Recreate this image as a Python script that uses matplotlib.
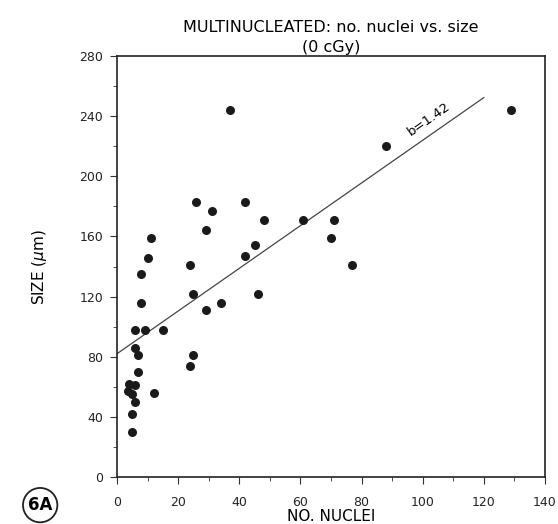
import matplotlib
matplotlib.use("Agg")
import matplotlib.pyplot as plt
from matplotlib.ticker import MultipleLocator

# values
no_nuclei = [37, 129, 88, 26, 42, 31, 48, 61, 71, 29, 11, 70, 45, 42, 10, 24, 77,
             8, 25, 46, 8, 34, 29, 6, 9, 15, 6, 7, 25, 24, 7, 4, 6, 3.6, 4.8, 12,
             6, 5, 5]
size_um = [244, 244, 220, 183, 183, 177, 171, 171, 171, 164, 159, 159, 154, 147,
           146, 141, 141, 135, 122, 122, 116, 116, 111, 98, 98, 98, 86, 81, 81, 74,
           70, 62, 61, 57, 55, 56, 50, 42, 30]

# regression line
intercept = 82
slope = 1.42
line_x = [0, 120]
line_y = [intercept + slope * v for v in line_x]

plt.rcParams["font.family"] = ["DejaVu Sans"]

fig = plt.figure(figsize=(5.58, 5.24), dpi=100)
ax = fig.add_axes([0.2097, 0.0897, 0.7670, 0.8033])

ax.scatter(no_nuclei, size_um, s=30, color="#1a1a1a", zorder=3)
ax.plot(line_x, line_y, color="#444444", lw=0.9)

ax.text(102, 238, "b=1.42", rotation=35, ha="center", va="center",
        rotation_mode="anchor", fontsize=9.5)

ax.set_xlim(0, 140)
ax.set_ylim(0, 280)
ax.xaxis.set_major_locator(MultipleLocator(20))
ax.xaxis.set_minor_locator(MultipleLocator(10))
ax.yaxis.set_major_locator(MultipleLocator(40))
ax.yaxis.set_minor_locator(MultipleLocator(20))
ax.tick_params(which="both", direction="out", top=False, right=False,
               labelsize=9, color="#333333", labelcolor="#222222")
ax.tick_params(which="major", length=5)
ax.tick_params(which="minor", length=3)
ax.tick_params(axis="x", which="major", pad=9)
ax.tick_params(axis="y", which="major", pad=5)
for sp in ax.spines.values():
    sp.set_linewidth(1.2)
    sp.set_color("#222222")

ax.set_xlabel("NO. NUCLEI", fontsize=11, labelpad=0)
ax.set_ylabel("SIZE ($\\mu$m)", fontsize=11, labelpad=22)
ax.set_title("MULTINUCLEATED: no. nuclei vs. size\n(0 cGy)", fontsize=11.5,
             linespacing=1.4, pad=3)

fig.text(0.072, 0.036, "6A", fontsize=12, fontweight="bold", ha="center",
         va="center",
         bbox=dict(boxstyle="circle,pad=0.3", fc="white", ec="#222222", lw=1.3))

fig.savefig("out.png", dpi=100)
